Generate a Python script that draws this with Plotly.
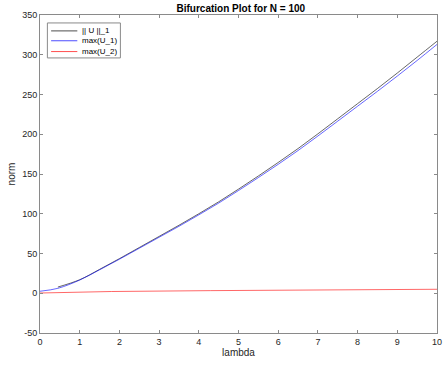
import plotly.graph_objects as go

# data
lam_norm = [0.45, 1.0, 1.5, 2.0, 2.5, 3.0, 3.5, 4.0, 4.5, 5.0, 5.5, 6.0, 6.5, 7.0, 7.5, 8.0, 8.5, 9.0, 9.5, 10.0]
norm_u = [7.8, 17, 30, 43.5, 57.5, 71.5, 85.5, 100, 115, 131, 147.5, 164.5, 182, 200.5, 219.5, 238.5, 257.5, 277, 297, 317]

lam_u1 = [0.0, 0.45, 1.0, 1.5, 2.0, 2.5, 3.0, 3.5, 4.0, 4.5, 5.0, 5.5, 6.0, 6.5, 7.0, 7.5, 8.0, 8.5, 9.0, 9.5, 10.0]
max_u1 = [2.5, 6.2, 16.6, 29.5, 42.8, 56.6, 70.4, 84.2, 98.6, 113.4, 129.2, 145.5, 162.2, 179.5, 197.8, 216.5, 235.3, 254, 273.2, 292.8, 313]

lam_u2 = [0.0, 0.6, 1.8, 4.3, 8.0, 10.0]
max_u2 = [0.3, 1.2, 2.2, 3.3, 4.5, 5.0]

series_names = ["|| U ||_1", "max(U_1)", "max(U_2)"]
series_colors = ["#000000", "#0000ff", "#ff0000"]

x_ticks = [0, 1, 2, 3, 4, 5, 6, 7, 8, 9, 10]
y_ticks = [-50, 0, 50, 100, 150, 200, 250, 300, 350]

FONT = "Liberation Sans, Arial, sans-serif"

fig = go.Figure()
for xs, ys, nm, col, shp in [(lam_norm, norm_u, series_names[0], series_colors[0], "spline"),
                             (lam_u1, max_u1, series_names[1], series_colors[1], "spline"),
                             (lam_u2, max_u2, series_names[2], series_colors[2], "linear")]:
    fig.add_trace(go.Scatter(x=xs, y=ys, mode="lines", name=nm, showlegend=False,
                             line=dict(color=col, width=0.6, shape=shp)))

axis_common = dict(showgrid=False, zeroline=False, showline=True, linecolor="#8a8a8a", linewidth=1,
                   mirror="ticks", ticks="inside", ticklen=3, tickcolor="#8a8a8a", tickwidth=1,
                   ticklabeloverflow="allow",
                   tickfont=dict(family=FONT, size=9, color="#262626"))

# legend box drawn manually (MATLAB-style compact legend)
lx0, lx1 = 0.0186, 0.2025
ly0, ly1 = 0.865, 0.975
row_y = [0.950, 0.919, 0.885]
shapes = [dict(type="rect", xref="x domain", yref="y domain", x0=lx0, x1=lx1, y0=ly0, y1=ly1,
               line=dict(color="#8a8a8a", width=1), fillcolor="white", layer="above")]
annotations = []
for nm, col, ry in zip(series_names, series_colors, row_y):
    shapes.append(dict(type="line", xref="x domain", yref="y domain", x0=0.028, x1=0.094, y0=ry, y1=ry,
                       line=dict(color=col, width=0.7), layer="above"))
    annotations.append(dict(xref="x domain", yref="y domain", x=0.102, y=ry, xanchor="left", yanchor="middle",
                            text=nm, showarrow=False, font=dict(family=FONT, size=8, color="#000000")))

fig.update_layout(
    width=446, height=366,
    margin=dict(l=40, r=4, t=15, b=33),
    paper_bgcolor="white", plot_bgcolor="white",
    font=dict(family=FONT, color="#262626"),
    title=dict(text="<b>Bifurcation Plot for N = 100</b>", x=0.54, xanchor="center", y=0.977, yanchor="middle",
               font=dict(size=10, color="#000000")),
    xaxis=dict(range=[0, 10], tickvals=x_ticks, ticktext=[str(v) for v in x_ticks],
               title=dict(text="lambda", font=dict(size=10), standoff=2), **axis_common),
    yaxis=dict(range=[-50, 350], tickvals=y_ticks, ticktext=[str(v) for v in y_ticks],
               title=dict(text="norm", font=dict(size=10), standoff=4), **axis_common),
    shapes=shapes,
    annotations=annotations,
    showlegend=False,
)

fig.write_html("out.html")
